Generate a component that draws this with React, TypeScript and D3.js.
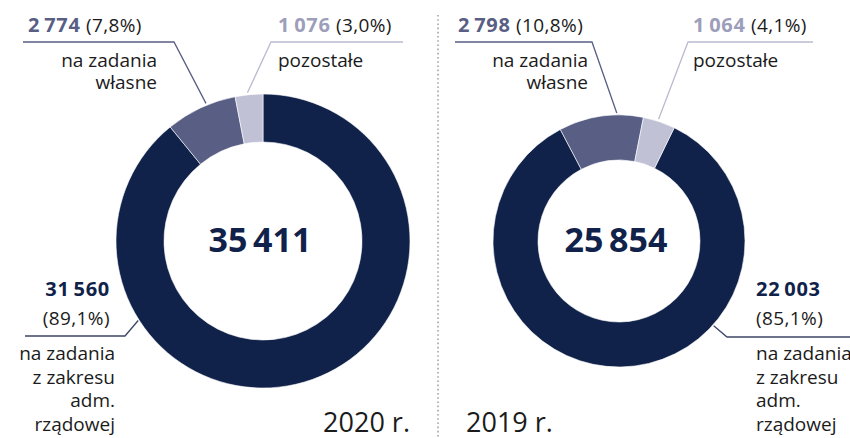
import React from 'react';
import * as d3 from 'd3';

// ---- data ----
const categories = ['na zadania z zakresu adm. rządowej', 'na zadania własne', 'pozostałe'];
const categoryLines = [['na zadania', 'z zakresu', 'adm.', 'rządowej'], ['na zadania', 'własne'], ['pozostałe']];
const years = ['2020 r.', '2019 r.'];
const values2020 = [31560, 2774, 1076];
const values2019 = [22003, 2798, 1064];
const totals = [35411, 25854];

// ---- style ----
const ringColors = ['#10224a', '#585e84', '#c0c1d5'];
const numberColors = ['#10224a', '#585e84', '#9c9eba'];
const lineColors = ['#3d4566', '#585e84', '#b9bbd0'];
const textColor = '#1b1b1b';
const FONT = "'Open Sans', sans-serif";
const FS = 19;
const NFS = 20;

const locale = d3.formatLocale({ decimal: ',', thousands: '\u2009', grouping: [3], currency: ['', ''] });
const fmtInt = locale.format(',d');
const fmtPct = locale.format('.1f');

type Layout = {
  cx: number; cy: number; outer: number; inner: number; start: number;
  leaderAngles: number[];
  year: { x: number; anchor: string };
};

const layouts: Layout[] = [
  { cx: 263, cy: 241, outer: 147, inner: 99, start: 0, leaderAngles: [237.5, 337.5, 354], year: { x: 410, anchor: 'end' } },
  { cx: 619, cy: 241, outer: 126, inner: 81, start: 26, leaderAngles: [131.8, 359, 18], year: { x: 466, anchor: 'start' } },
];

function Donut({ values, total, layout, idx }: { values: number[]; total: number; layout: Layout; idx: number }) {
  const { cx, cy, outer, inner, start } = layout;
  const s = (start * Math.PI) / 180;
  const pie = d3.pie<number>().sort(null).value((d) => d).startAngle(s).endAngle(s + 2 * Math.PI);
  const arcs = pie(values);
  const arc = d3.arc<d3.PieArcDatum<number>>().innerRadius(inner).outerRadius(outer);
  const sum = d3.sum(values);
  const pct = values.map((v) => fmtPct((v / sum) * 100) + '%');

  const pt = (deg: number, r: number) => {
    const a = (deg * Math.PI) / 180;
    return [cx + r * Math.sin(a), cy - r * Math.cos(a)];
  };

  const left = idx === 0;
  const e0 = pt(layout.leaderAngles[0], outer + 1);
  const e1 = pt(layout.leaderAngles[1], outer + 2);
  const e2 = pt(layout.leaderAngles[2], outer + 2);

  const own = left ? { x0: 23, elbow: 174, numX: 28, textR: 157 } : { x0: 455, elbow: 592, numX: 458, textR: 588 };
  const other = left ? { elbow: 271, x1: 403, numX: 278 } : { elbow: 688, x1: 813, numX: 693 };
  const lineY = 42;

  const dark = left
    ? { path: `M25,336 L125,336 L${e0[0]},${e0[1]}`, numX: 110, anchor: 'end', textX: 115 }
    : { path: `M${e0[0]},${e0[1]} L727,337 L850,337`, numX: 756, anchor: 'start', textX: 756 };

  const numSpacing = 0.7;
  const pctSpacing = 0.4;

  return (
    <g>
      <g transform={`translate(${cx},${cy})`}>
        {arcs.map((a, i) => (
          <path key={i} d={arc(a) as string} fill={ringColors[i]} stroke="#fff" strokeWidth={0.6} />
        ))}
      </g>
      <text x={cx - 3} y={252} textAnchor="middle" fontFamily={FONT} fontWeight={700} fontSize={34} fill={ringColors[0]}>
        {fmtInt(total)}
      </text>

      {/* własne */}
      <path d={`M${own.x0},${lineY} L${own.elbow},${lineY} L${e1[0]},${e1[1]}`} fill="none" stroke={lineColors[1]} strokeWidth={1.3} />
      <text x={own.numX} y={32} fontFamily={FONT} fontSize={FS} fill={textColor}>
        <tspan fontWeight={700} fontSize={NFS} fill={numberColors[1]} letterSpacing={numSpacing}>{fmtInt(values[1])}</tspan>
        <tspan letterSpacing={pctSpacing}> ({pct[1]})</tspan>
      </text>
      {categoryLines[1].map((t, k) => (
        <text key={k} x={own.textR} y={67 + k * 22} textAnchor="end" fontFamily={FONT} fontSize={FS} fill={textColor}>{t}</text>
      ))}

      {/* pozostałe */}
      <path d={`M${other.x1},${lineY} L${other.elbow},${lineY} L${e2[0]},${e2[1]}`} fill="none" stroke={lineColors[2]} strokeWidth={1.3} />
      <text x={other.numX} y={32} fontFamily={FONT} fontSize={FS} fill={textColor}>
        <tspan fontWeight={700} fontSize={NFS} fill={numberColors[2]} letterSpacing={numSpacing}>{fmtInt(values[2])}</tspan>
        <tspan letterSpacing={pctSpacing}> ({pct[2]})</tspan>
      </text>
      {categoryLines[2].map((t, k) => (
        <text key={k} x={other.numX} y={67 + k * 22} fontFamily={FONT} fontSize={FS} fill={textColor}>{t}</text>
      ))}

      {/* dark */}
      <path d={dark.path} fill="none" stroke={lineColors[0]} strokeWidth={1.3} />
      <text x={dark.numX} y={296} textAnchor={dark.anchor} fontFamily={FONT} fontWeight={700} fontSize={NFS} fill={numberColors[0]} letterSpacing={numSpacing}>
        {fmtInt(values[0])}
      </text>
      <text x={dark.numX} y={325} textAnchor={dark.anchor} fontFamily={FONT} fontSize={FS} fill={textColor} letterSpacing={pctSpacing}>({pct[0]})</text>
      {categoryLines[0].map((t, k) => (
        <text key={k} x={dark.textX} y={360 + k * 23.5} textAnchor={dark.anchor} fontFamily={FONT} fontSize={FS} fill={textColor}>{t}</text>
      ))}

      <text x={layout.year.x} y={432} textAnchor={layout.year.anchor} fontFamily={FONT} fontSize={27} fill={textColor}>
        {years[idx]}
      </text>
    </g>
  );
}

export default function App() {
  const series = [values2020, values2019];
  return (
    <svg width={850} height={438} style={{ position: 'absolute', left: 0, top: 0, background: '#fff' }}>
      <title>{categories.join(', ')}</title>
      <line x1={438} x2={438} y1={15} y2={438} stroke="#a6a6a6" strokeWidth={1.6} strokeDasharray="1.6 2.6" />
      {series.map((v, i) => (
        <Donut key={i} values={v} total={totals[i]} layout={layouts[i]} idx={i} />
      ))}
    </svg>
  );
}
